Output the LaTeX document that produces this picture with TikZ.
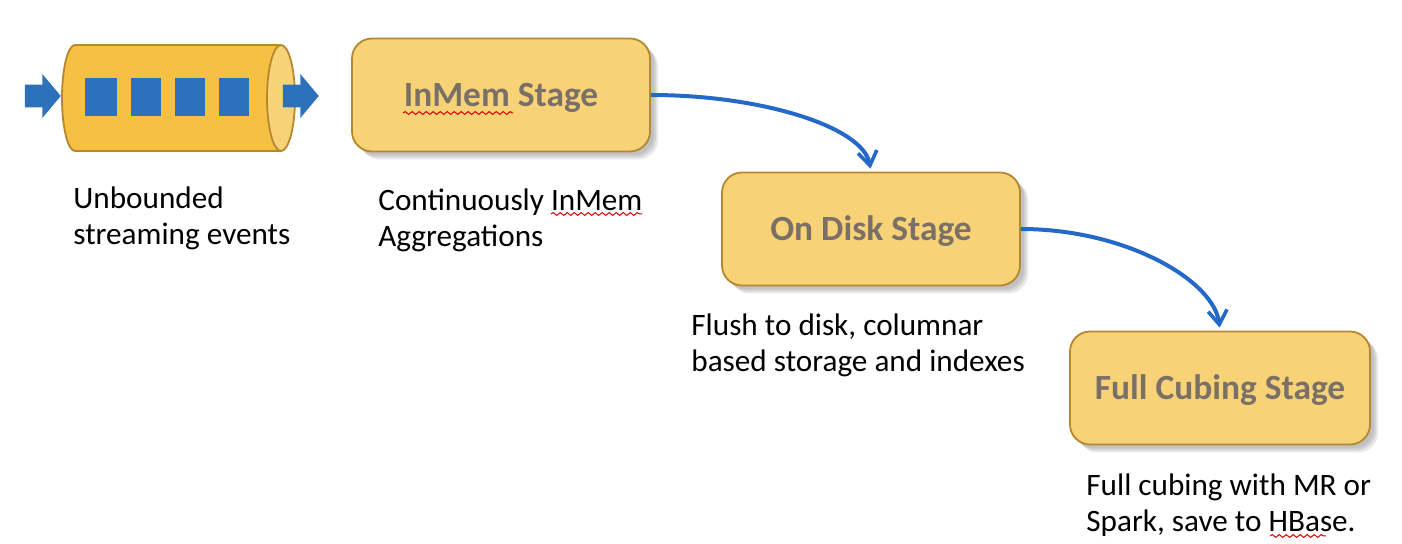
\documentclass[tikz,border=0pt]{standalone}
\usepackage{fontspec}
\setmainfont{Carlito}
\usetikzlibrary{shapes.arrows, shadows, arrows.meta, decorations.pathmorphing}

\definecolor{stageFill}{HTML}{F8D277}
\definecolor{pipeFill}{HTML}{F6C143}
\definecolor{stageLine}{HTML}{B5872F}
\definecolor{eventBlue}{HTML}{2C71BA}
\definecolor{flowBlue}{HTML}{2468C8}
\definecolor{stageText}{HTML}{7A7068}

\begin{document}
\begin{tikzpicture}[
    x=0.5pt, y=-0.5pt,
    soft shadow/.style={drop shadow={shadow xshift=#1, shadow yshift=-#1, opacity=0.13, fill=black!70}},
    stage node/.style={rectangle, rounded corners=10pt, draw=stageLine, fill=stageFill, line width=0.9pt, inner sep=0pt, minimum height=56.5pt, text height=12pt, text depth=0pt, font=\fontsize{17.7}{20}\selectfont\bfseries, text=stageText, soft shadow=4pt, soft shadow=3pt, soft shadow=2pt},
    event node/.style={rectangle, fill=eventBlue, inner sep=0pt, minimum height=19pt},
    flow arrow/.style={single arrow, fill=eventBlue, inner sep=0pt, text width=0pt, text height=11pt, text depth=0pt, minimum height=18pt, single arrow head extend=5.25pt, single arrow head indent=0pt, single arrow tip angle=100},
    note node/.style={anchor=north west, align=left, inner sep=0pt, font=\fontsize{15.6}{18}\selectfont},
    main edge/.style={draw=flowBlue, line width=2pt, shorten >=1.5pt, -{Straight Barb[length=7pt, width=9.5pt, line width=1.8pt]}},
    spell line/.style={draw=red!85!black, line width=0.5pt, decorate, decoration={snake, amplitude=0.7pt, segment length=3.5pt}}
]
\useasboundingbox (0,0) rectangle (1402,544);

% stream of events
\filldraw[draw=stageLine, fill=pipeFill, line width=0.9pt] (281,45) -- (75,45) arc[start angle=270, end angle=90, x radius=13, y radius=53] -- (281,151) -- cycle;
\filldraw[draw=stageLine, fill=stageFill, line width=0.9pt] (281,98) ellipse[x radius=14, y radius=53];

\node[flow arrow] (InArrow)  at (38,96)  {};
\node[event node, minimum width=16pt] (Event1) at (101,97) {};
\node[event node, minimum width=15pt] (Event2) at (146,97) {};
\node[event node, minimum width=15pt] (Event3) at (190,97) {};
\node[event node, minimum width=15pt] (Event4) at (234,97) {};
\node[flow arrow] (OutArrow) at (296,96) {};

% stages
\node[stage node, minimum width=149pt] (InMem) at (501,95)   {InMem Stage};
\node[stage node, minimum width=149pt] (Disk)  at (871,229)  {On Disk Stage};
\node[stage node, minimum width=150pt] (Full)  at (1220,388) {Full Cubing Stage};

\draw[main edge] (InMem.east) .. controls +(110,0) and +(-8,-45) .. (Disk.north);
\draw[main edge] (Disk.east)  .. controls +(105,0) and +(-6,-50) .. (Full.north);

% texts below
\node[note node] (NoteEvents) at (73,186)   {Unbounded\\streaming events};
\node[note node] (NoteInMem)  at (378,188)  {Continuously InMem\\Aggregations};
\node[note node] (NoteDisk)   at (691,313)  {Flush to disk, columnar\\based storage and indexes};
\node[note node] (NoteFull)   at (1086,473) {Full cubing with MR or\\Spark, save to HBase.};

% spell check lines
\draw[spell line] (403,113) -- (513,113);
\draw[spell line] (551,214) -- (642,214);
\draw[spell line] (1270,536) -- (1326,536);
\end{tikzpicture}
\end{document}
